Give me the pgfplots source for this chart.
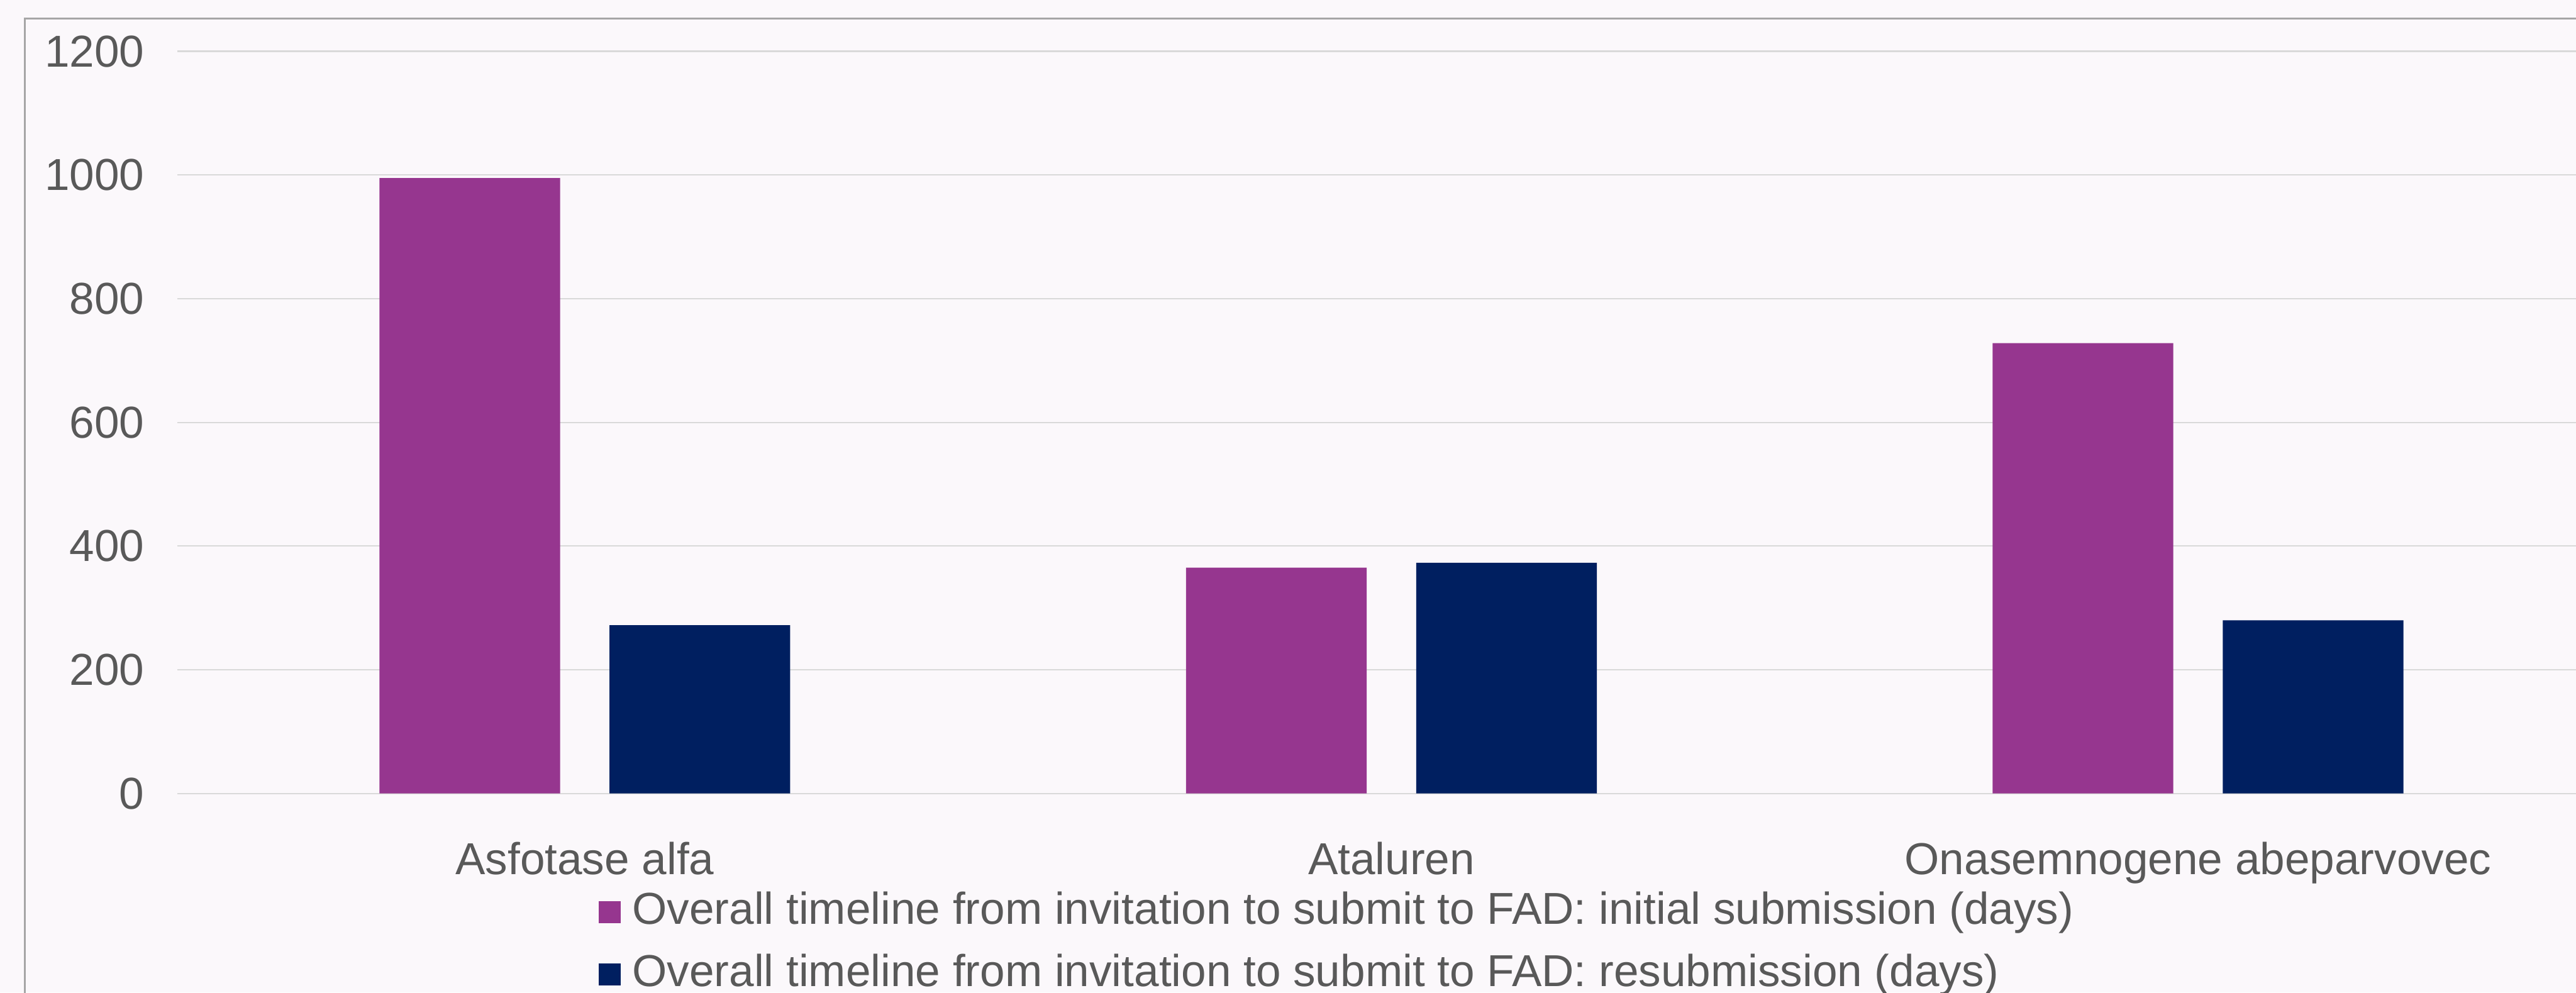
\documentclass[border=0pt]{standalone}
\usepackage{fontspec}
\setmainfont{Liberation Sans}
\usepackage{pgfplots}
\pgfplotsset{compat=1.18}
\definecolor{barpurple}{RGB}{150,54,143}
\definecolor{barnavy}{RGB}{0,31,96}
\definecolor{txtgray}{RGB}{89,89,89}
\definecolor{gridgray}{RGB}{217,217,217}
\definecolor{bg}{RGB}{251,248,251}
\definecolor{framegray}{RGB}{166,166,166}
\begin{document}
\begin{tikzpicture}
\useasboundingbox (0,0) rectangle (864.2pt,333pt);
\fill[bg] (0,0) rectangle (864.2pt,333pt);
\draw[framegray, line width=0.6pt] (8.4pt,-1pt) -- (8.4pt,326.8pt) -- (866pt,326.8pt);
\begin{axis}[
  at={(59.4pt,66.8pt)}, anchor=south west,
  scale only axis, width=804.8pt, height=249pt,
  ybar=16.6pt, bar width=60.6pt,
  xmin=-0.5055, xmax=2.4686, ymin=0, ymax=1200,
  xtick={0,1,2},
  xticklabels={Asfotase alfa, Ataluren, Onasemnogene abeparvovec},
  ytick={0,200,400,600,800,1000,1200},
  ymajorgrids, grid style={gridgray, line width=0.45pt},
  axis line style={draw=none}, tick style={draw=none},
  /pgf/number format/assume math mode=true,
  /pgf/number format/1000 sep={},
  ticklabel style={font=\fontsize{15pt}{18pt}\selectfont, text=txtgray},
  yticklabel style={anchor=east, inner sep=0pt, xshift=-10.8pt},
  xticklabel style={anchor=base, yshift=-23pt},
  legend style={at={(0.1754,-0.131)}, anchor=north west, draw=none, fill=none,
    inner sep=0pt, row sep=6.9pt, column sep=0pt,
    font=\fontsize{15pt}{18pt}\selectfont, text=txtgray,
    nodes={inner sep=0pt, text height=11pt, text depth=3pt}},
  legend cell align=left,
  legend image code/.code={\fill[#1] (0pt,-3.7pt) rectangle (7.4pt,3.7pt);},
]
\addplot[fill=barpurple, draw=none] coordinates {(0,995) (1,365) (2,728)};
\addplot[fill=barnavy, draw=none] coordinates {(0,272) (1,373) (2,280)};
\legend{\hspace{4pt}Overall timeline from invitation to submit to FAD: initial submission (days),
        \hspace{4pt}Overall timeline from invitation to submit to FAD: resubmission (days)}
\end{axis}
\end{tikzpicture}
\end{document}
